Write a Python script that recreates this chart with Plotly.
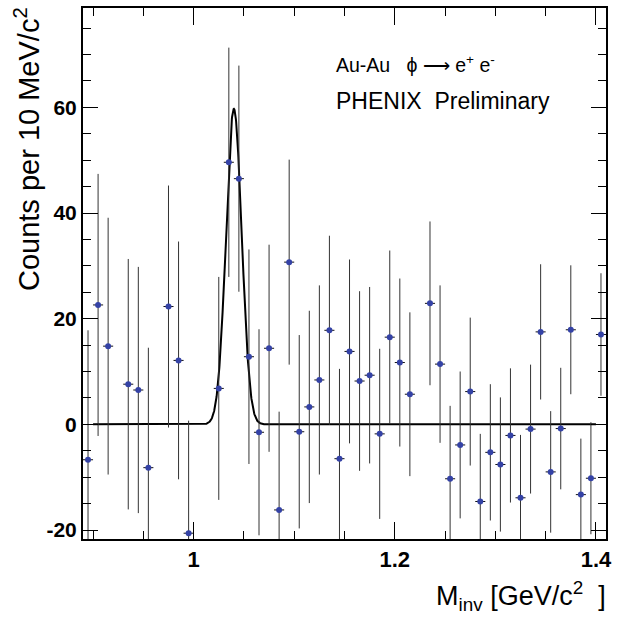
import numpy as np
import plotly.graph_objects as go

# ---------------- data ----------------
mass = [0.895, 0.905, 0.915, 0.935, 0.945, 0.955, 0.975, 0.985, 0.995,
        1.025, 1.035, 1.045, 1.055, 1.065, 1.075, 1.085, 1.095, 1.105,
        1.115, 1.125, 1.135, 1.145, 1.155, 1.165, 1.175, 1.185, 1.195,
        1.205, 1.215, 1.235, 1.245, 1.255, 1.265, 1.275, 1.285, 1.295,
        1.305, 1.315, 1.325, 1.335, 1.345, 1.355, 1.365, 1.375, 1.385,
        1.395, 1.405]
counts = [-6.7, 22.6, 14.8, 7.6, 6.5, -8.2, 22.3, 12.1, -20.6,
          6.8, 49.6, 46.5, 12.8, -1.5, 14.4, -16.2, 30.7, -1.4,
          3.3, 8.4, 17.8, -6.5, 13.8, 8.2, 9.3, -1.8, 16.5,
          11.7, 5.7, 22.9, 11.4, -10.3, -3.9, 6.2, -14.6, -5.3,
          -7.6, -2.1, -13.9, -0.9, 17.5, -9.0, -0.8, 17.9, -13.3,
          -10.2, 17.0]
errors = [24.5, 24.8, 24.3, 23.7, 23.3, 22.7, 22.9, 22.5, 21.3,
          21.1, 21.7, 21.4, 20.3, 19.5, 19.6, 18.6, 19.4, 18.3,
          18.2, 17.9, 17.9, 17.0, 17.4, 17.0, 16.7, 16.1, 16.4,
          15.9, 15.5, 15.5, 14.9, 13.8, 13.9, 14.0, 12.8, 12.9,
          12.7, 12.7, 11.9, 12.2, 12.8, 11.5, 11.5, 12.2, 10.6,
          10.6, 11.6]
bin_half_width = 0.005

# Gaussian fit parameters
fit_amplitude = 59.7
fit_mean = 1.040
fit_sigma = 0.0078
fit_range = [0.90, 1.40]

x_range = [0.89, 1.41]
y_range = [-21.7, 78.8]
x_tickvals = [1.0, 1.2, 1.4]
x_ticktext = ["1", "1.2", "1.4"]
x_minorvals = [0.9, 0.95, 1.05, 1.1, 1.15, 1.25, 1.3, 1.35]
y_tickvals = [-20, 0, 20, 40, 60]
y_ticktext = ["-20", "0", "20", "40", "60"]
y_minorvals = [-15, -10, -5, 5, 10, 15, 25, 30, 35, 45, 50, 55, 65, 70, 75]

fit_x = np.linspace(fit_range[0], fit_range[1], 2001)
fit_y = fit_amplitude * np.exp(-0.5 * ((fit_x - fit_mean) / fit_sigma) ** 2)

fig = go.Figure()
fig.add_trace(go.Scatter(x=fit_x, y=fit_y, mode="lines",
                         line=dict(color="black", width=2),
                         hoverinfo="skip", showlegend=False))
fig.add_trace(go.Scatter(
    x=mass, y=counts, mode="markers",
    marker=dict(color="#3442a6", size=6, line=dict(width=0)),
    error_y=dict(type="data", array=errors, visible=True,
                 color="#333333", thickness=1, width=0),
    error_x=dict(type="constant", value=bin_half_width, visible=True,
                 color="#111111", thickness=1, width=0),
    showlegend=False))

tick_font_x = dict(family="Liberation Sans", size=22, color="black", weight="bold")
tick_font_y = dict(family="Liberation Sans", size=21, color="black", weight="bold")

fig.update_layout(
    width=625, height=619,
    margin=dict(l=83, r=19, t=6, b=80),
    paper_bgcolor="white", plot_bgcolor="white",
    showlegend=False,
    xaxis=dict(range=x_range, showgrid=False, zeroline=False,
               showline=True, linecolor="black", linewidth=2, mirror="allticks",
               ticks="inside", ticklen=17, tickwidth=1, tickcolor="black",
               tickmode="array", tickvals=x_tickvals, ticktext=x_ticktext,
               tickfont=tick_font_x, ticklabelstandoff=0,
               minor=dict(tickmode="array", tickvals=x_minorvals, ticks="inside",
                          ticklen=8, tickwidth=1, tickcolor="black", showgrid=False)),
    yaxis=dict(range=y_range, showgrid=False, zeroline=False,
               showline=True, linecolor="black", linewidth=2, mirror="allticks",
               ticks="inside", ticklen=15, tickwidth=1, tickcolor="black",
               tickmode="array", tickvals=y_tickvals, ticktext=y_ticktext,
               tickfont=tick_font_y,
               minor=dict(tickmode="array", tickvals=y_minorvals, ticks="inside",
                          ticklen=8, tickwidth=1, tickcolor="black", showgrid=False)),
)

fig.add_annotation(
    text="Counts per 10 MeV/c<sup>2</sup>", textangle=-90,
    xref="paper", yref="paper", x=(27 - 83) / 523, y=(539 - 3) / 533,
    xanchor="center", yanchor="top", showarrow=False,
    font=dict(family="Liberation Sans", size=29, color="black"))
fig.add_annotation(
    text="M<sub>inv</sub> [GeV/c<sup>2</sup>\u00a0\u00a0]",
    xref="paper", yref="paper", x=(608 - 83) / 523, y=(539 - 617) / 533,
    xanchor="right", yanchor="bottom", showarrow=False,
    font=dict(family="Liberation Sans", size=27, color="black"))
fig.add_annotation(
    text=("Au-Au\u00a0\u00a0 \u03d5 <span style=\"font-size:19px\">\u27f6</span>"
          " e<sup>+</sup>\u00a0e<sup>-</sup>"),
    xref="paper", yref="paper", x=(334 - 83) / 523, y=(539 - 62) / 533,
    xanchor="left", yanchor="middle", showarrow=False,
    font=dict(family="Liberation Sans", size=19.5, color="black"))
fig.add_annotation(
    text="PHENIX\u00a0 Preliminary",
    xref="paper", yref="paper", x=(334 - 83) / 523, y=(539 - 99) / 533,
    xanchor="left", yanchor="middle", showarrow=False,
    font=dict(family="Liberation Sans", size=23, color="black"))

fig.write_html("out.html")
